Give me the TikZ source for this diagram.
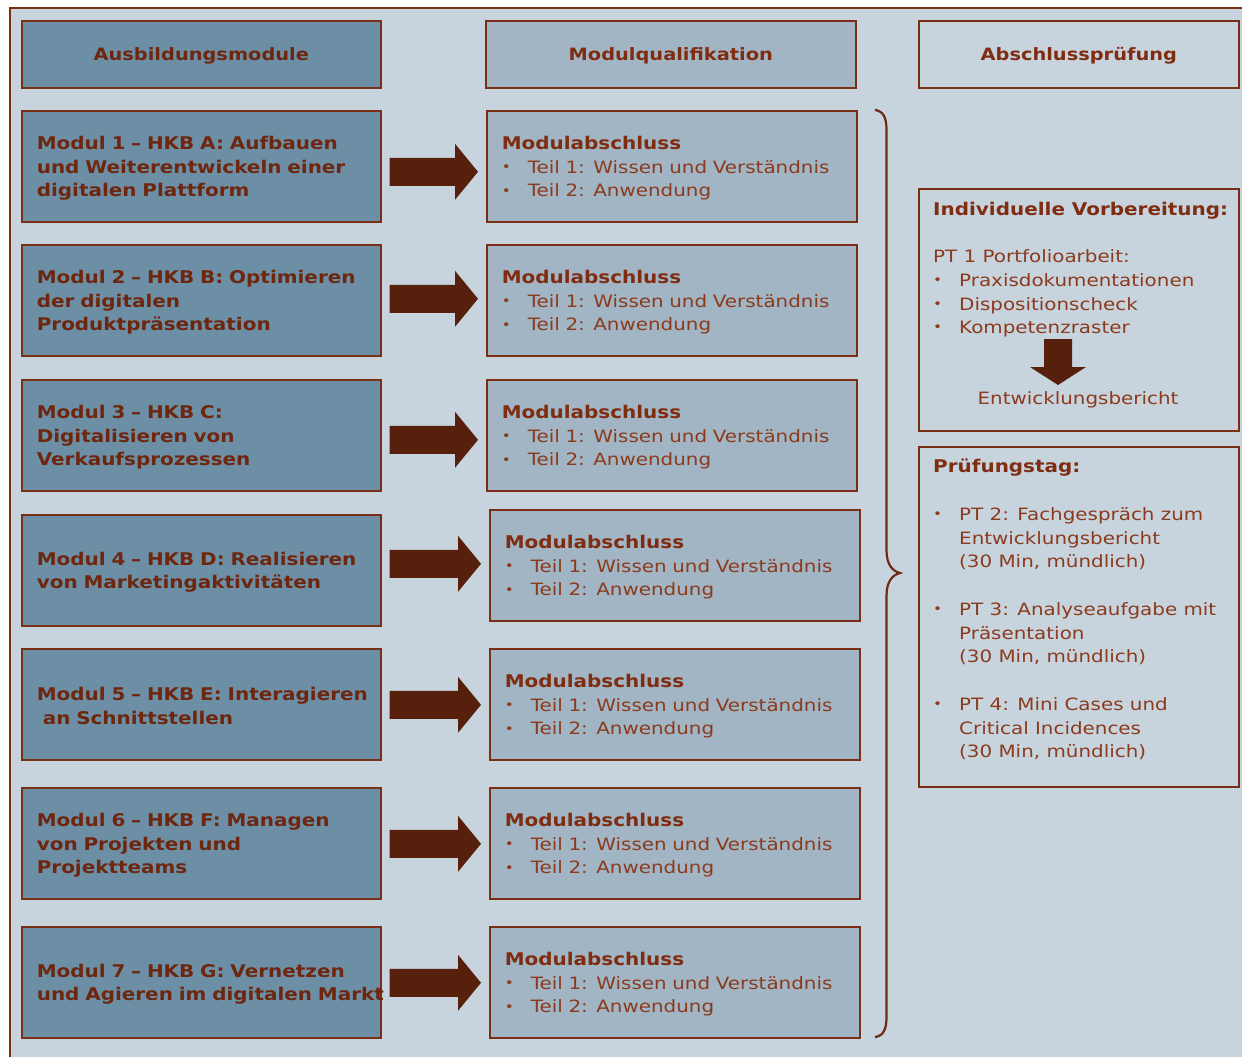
\documentclass[tikz,border=0pt]{standalone}
\usepackage{fontspec}
\setmainfont{DejaVu Sans}[FakeStretch=1.17, BoldFeatures={FakeStretch=1.14}]
\usetikzlibrary{calc}
\definecolor{bgc}{RGB}{199,212,222}
\definecolor{modc}{RGB}{108,143,166}
\definecolor{qualc}{RGB}{161,181,196}
\definecolor{brd}{RGB}{122,46,20}
\definecolor{txtb}{RGB}{110,38,14}
\definecolor{txth}{RGB}{128,44,16}
\definecolor{txtr}{RGB}{140,58,28}
\definecolor{arrc}{RGB}{87,32,12}
\newcommand\bul{\makebox[26pt][l]{\raisebox{1.2pt}{\fontsize{13}{13}\selectfont •}}}
\newcommand\tp{\rule{0pt}{17.3pt}}
\newcommand\blockarrow[3]{%
  \fill[arrc] let \p1=($(#1.east)+(8,#3)$), \p2=($(#2.west)+(-8,#3)$) in
  (\x1,\y1+14pt) -- (\x2-23pt,\y1+14pt) -- (\x2-23pt,\y1+28pt) -- (\x2,\y1)
  -- (\x2-23pt,\y1-28pt) -- (\x2-23pt,\y1-14pt) -- (\x1,\y1-14pt) -- cycle;}
\begin{document}
\begin{tikzpicture}[x=1pt,y=-1pt,
  every node/.style={font=\fontsize{17}{23.7}\selectfont},
  basebox/.style={draw=brd, line width=1.6pt, anchor=north west, inner xsep=15pt, inner ysep=0pt, align=left},
  headbox/.style={draw=brd, line width=1.6pt, anchor=north west, inner sep=0pt, minimum height=67, text height=13pt, text depth=0pt, font=\fontsize{17}{23.7}\selectfont\bfseries},
  modbox/.style={basebox, fill=modc, minimum width=359, minimum height=111, text width=329, text=txtb, font=\fontsize{17.5}{23.7}\selectfont\bfseries},
  qualbox/.style={basebox, fill=qualc, minimum width=370, minimum height=111, text width=340, text=txtr},
  sidebox/.style={draw=brd, line width=1.6pt, anchor=north west, minimum width=320, inner sep=0pt},
  line/.style={anchor=base west, inner sep=0pt, text=txtr},
  bline/.style={anchor=base west, inner sep=0pt, text=txth, font=\fontsize{17.5}{23.7}\selectfont\bfseries}]
\useasboundingbox (0,0) rectangle (1242,1057);
\fill[white] (0,0) rectangle (1242,1057);
\fill[bgc] (10,8) rectangle (1242,1057);
\draw[brd, line width=2pt] (10,1057) -- (10,8) -- (1242,8);

% headers
\node[headbox, fill=modc, minimum width=359, text=txtb] (h1) at (21,20) {Ausbildungsmodule};
\node[headbox, fill=qualc, minimum width=370, text=txth] (h2) at (485,20) {Modulqualifikation};
\node[headbox, fill=bgc, minimum width=320, text=txth] (h3) at (918,20) {Abschlussprüfung};

% modules
\node[modbox] (m1) at (21,110) {\tp\mbox{Modul 1 – HKB A: Aufbauen}\\\mbox{und Weiterentwickeln einer}\\digitalen Plattform};
\node[modbox] (m2) at (21,244) {\tp\mbox{Modul 2 – HKB B: Optimieren}\\der digitalen\\Produktpräsentation};
\node[modbox] (m3) at (21,379) {\tp Modul 3 – HKB C:\\Digitalisieren von\\Verkaufsprozessen};
\node[modbox] (m4) at (21,514) {\tp\mbox{Modul 4 – HKB D: Realisieren}\\\mbox{von Marketingaktivitäten}};
\node[modbox] (m5) at (21,648) {\tp\mbox{Modul 5 – HKB E: Interagieren}\\\hspace*{6pt}an Schnittstellen};
\node[modbox] (m6) at (21,787) {\tp\mbox{Modul 6 – HKB F: Managen}\\von Projekten und\\Projektteams};
\node[modbox] (m7) at (21,926) {\tp\mbox{Modul 7 – HKB G: Vernetzen}\\\mbox{und Agieren im digitalen Markt}};

% qualifications
\newcommand\qualtext{\tp{\bfseries\fontsize{17.5}{23.7}\selectfont\color{txth}Modulabschluss}\\\mbox{\bul Teil 1: Wissen und Verständnis}\\\bul Teil 2: Anwendung}
\node[qualbox] (q1) at (486,110) {\qualtext};
\node[qualbox] (q2) at (486,244) {\qualtext};
\node[qualbox] (q3) at (486,379) {\qualtext};
\node[qualbox] (q4) at (489,509) {\qualtext};
\node[qualbox] (q5) at (489,648) {\qualtext};
\node[qualbox] (q6) at (489,787) {\qualtext};
\node[qualbox] (q7) at (489,926) {\qualtext};

% arrows
\blockarrow{m1}{q1}{5.5}
\blockarrow{m2}{q2}{-1.5}
\blockarrow{m3}{q3}{4.5}
\blockarrow{m4}{q4}{-6.5}
\blockarrow{m5}{q5}{0.5}
\blockarrow{m6}{q6}{0.5}
\blockarrow{m7}{q7}{0.5}

% brace
\draw[brd!90!black, line width=2.2pt] (875,110) .. controls (883,111) and (886.5,117) .. (886.5,130)
  -- (886.5,550) .. controls (886.5,564) and (892,571) .. (900,573)
  .. controls (892,575) and (886.5,582) .. (886.5,596)
  -- (886.5,1017) .. controls (886.5,1030) and (883,1036) .. (875,1037);

% side box 1
\node[sidebox, minimum height=242] (s1) at (918,188) {};
\node[bline] (s1t) at (933,215) {Individuelle Vorbereitung:};
\node[line] (s1a) at (933,262) {PT 1 Portfolioarbeit:};
\node[line] (s1b) at (933,286) {\bul Praxisdokumentationen};
\node[line] (s1c) at (933,310) {\bul Dispositionscheck};
\node[line] (s1d) at (933,333) {\bul Kompetenzraster};
\node[anchor=base, inner sep=0pt, text=txtr] (s1e) at (1078,404) {Entwicklungsbericht};
\fill[arrc] (1044,339) -- (1072,339) -- (1072,367) -- (1086,367) -- (1058,385) -- (1030,367) -- (1044,367) -- cycle;

% side box 2
\node[sidebox, minimum height=340] (s2) at (918,446) {};
\node[bline] (s2t) at (933,472) {Prüfungstag:};
\node[line] (s2a) at (933,520) {\bul PT 2: Fachgespräch zum};
\node[line] (s2b) at (959,544) {Entwicklungsbericht};
\node[line] (s2c) at (959,567) {(30 Min, mündlich)};
\node[line] (s2d) at (933,615) {\bul PT 3: Analyseaufgabe mit};
\node[line] (s2e) at (959,639) {Präsentation};
\node[line] (s2f) at (959,662) {(30 Min, mündlich)};
\node[line] (s2g) at (933,710) {\bul PT 4: Mini Cases und};
\node[line] (s2h) at (959,734) {Critical Incidences};
\node[line] (s2i) at (959,757) {(30 Min, mündlich)};
\end{tikzpicture}
\end{document}
